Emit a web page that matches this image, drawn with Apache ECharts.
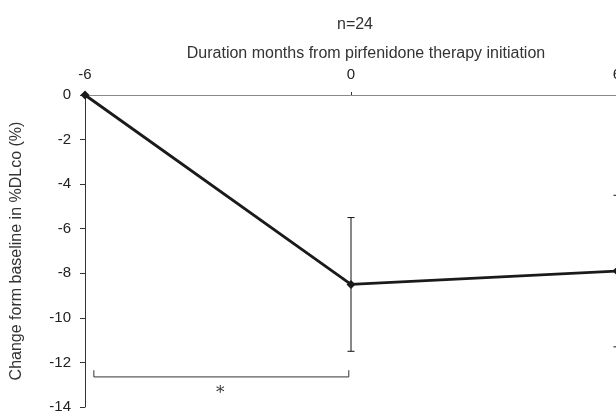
<!DOCTYPE html>
<html>
<head>
<meta charset="utf-8">
<script src="https://cdn.jsdelivr.net/npm/echarts@6/dist/echarts.min.js"></script>
<style>html,body{margin:0;padding:0;background:#fff;overflow:hidden}#c{width:616px;height:414px}</style>
</head>
<body>
<div id="c"></div>
<script>
var months = [-6, 0, 6];
var meanChange = [0, -8.5, -7.9];
var errUpper = [null, -5.5, -4.5];
var errLower = [null, -11.5, -11.3];
var xTicks = [-6, 0, 6];
var yTicks = [0, -2, -4, -6, -8, -10, -12, -14];
var bracketX = [-5.8, -0.05];
var bracketY = -12.65;
var bracketTickY = -12.35;
var starLabel = '*';
var starPos = [-2.95, -13.38];
var sampleText = 'n=24';
var xTitle = 'Duration months from pirfenidone therapy initiation';
var yTitle = 'Change form baseline in %DLco (%)';

var font = '"Liberation Sans", Arial, sans-serif';
var chart = echarts.init(document.getElementById('c'), null, {renderer: 'canvas', width: 616, height: 414});

var errData = [];
for (var i = 0; i < months.length; i++) {
  if (errUpper[i] !== null) errData.push([months[i], errUpper[i], errLower[i]]);
}

chart.setOption({
  animation: false,
  backgroundColor: '#fff',
  textStyle: {fontFamily: font},
  title: [
    {text: sampleText, left: 350, top: 12, textAlign: 'center',
     textStyle: {fontSize: 16, fontWeight: 'normal', color: '#333', fontFamily: font}},
    {text: xTitle, left: 361, top: 41, textAlign: 'center',
     textStyle: {fontSize: 16, fontWeight: 'normal', color: '#333', fontFamily: font}}
  ],
  grid: {left: 85, right: -1, top: 95, bottom: 7, containLabel: false, outerBoundsMode: 'none'},
  xAxis: {
    type: 'value', position: 'top', min: -6, max: 6, interval: 6,
    axisLine: {show: true, onZero: false, lineStyle: {color: '#888', width: 1}},
    axisTick: {show: true, length: 3, lineStyle: {color: '#333'}},
    axisLabel: {color: '#222', fontSize: 15, margin: 13, fontFamily: font, hideOverlap: false,
      formatter: function (v) { return xTicks.indexOf(v) >= 0 ? String(v) : ''; }},
    splitLine: {show: false}
  },
  yAxis: {
    type: 'value', min: -14, max: 0, interval: 2,
    name: yTitle, nameLocation: 'middle', nameGap: 60, nameRotate: 90,
    nameTextStyle: {fontSize: 16, color: '#333', fontFamily: font},
    axisLine: {show: true, onZero: false, lineStyle: {color: '#333', width: 1}},
    axisTick: {show: true, length: 5, lineStyle: {color: '#333'}},
    axisLabel: {color: '#222', fontSize: 15, margin: 14, fontFamily: font,
      formatter: function (v) { return yTicks.indexOf(v) >= 0 ? String(v) : ''; }},
    splitLine: {show: false}
  },
  series: [
    {
      type: 'custom', name: 'error', z: 3,
      data: errData,
      renderItem: function (params, api) {
        var x = api.value(0);
        var top = api.coord([x, api.value(1)]);
        var bot = api.coord([x, api.value(2)]);
        var hw = 3.5;
        var s = {stroke: '#111', lineWidth: 1};
        return {type: 'group', children: [
          {type: 'line', shape: {x1: top[0], y1: top[1], x2: bot[0], y2: bot[1]}, style: s},
          {type: 'line', shape: {x1: top[0] - hw, y1: top[1], x2: top[0] + hw, y2: top[1]}, style: s},
          {type: 'line', shape: {x1: bot[0] - hw, y1: bot[1], x2: bot[0] + hw, y2: bot[1]}, style: s}
        ]};
      }
    },
    {
      type: 'line', name: 'mean', z: 5,
      data: months.map(function (m, i) { return [m, meanChange[i]]; }),
      symbol: 'diamond', symbolSize: 9,
      itemStyle: {color: '#1a1a1a'},
      lineStyle: {color: '#1a1a1a', width: 2.8},
      clip: false
    },
    {
      type: 'custom', name: 'bracket', z: 2,
      data: [[bracketX[0], bracketX[1], bracketY, bracketTickY]],
      renderItem: function (params, api) {
        var a = api.coord([api.value(0), api.value(2)]);
        var b = api.coord([api.value(1), api.value(2)]);
        var at = api.coord([api.value(0), api.value(3)]);
        var bt = api.coord([api.value(1), api.value(3)]);
        return {type: 'polyline', shape: {points: [[at[0], at[1]], [a[0], a[1]], [b[0], b[1]], [bt[0], bt[1]]]},
          style: {stroke: '#333', lineWidth: 1, fill: null}};
      }
    },
    {
      type: 'custom', name: 'star', z: 2,
      data: [[starPos[0], starPos[1]]],
      renderItem: function (params, api) {
        var p = api.coord([api.value(0), api.value(1)]);
        return {type: 'text', x: p[0], y: p[1],
          style: {text: starLabel, fontSize: 17, fill: '#333', align: 'center', verticalAlign: 'middle',
            fontFamily: '"DejaVu Serif", serif'}};
      }
    }
  ]
});
</script>
</body>
</html>
